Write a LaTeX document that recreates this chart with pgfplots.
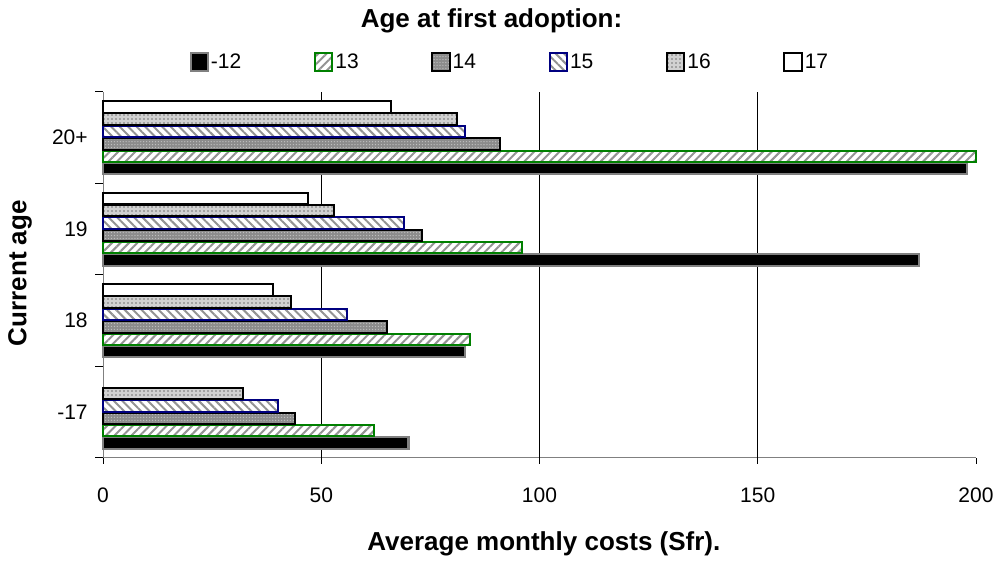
\documentclass[border=0pt]{standalone}
\usepackage{fontspec}
\setmainfont{Liberation Sans}
\usepackage{pgfplots}
\pgfplotsset{compat=1.18}
\usetikzlibrary{patterns.meta}

\definecolor{exgreen}{RGB}{0,128,0}
\definecolor{exnavy}{RGB}{0,0,128}
\definecolor{exgray}{RGB}{128,128,128}

\newcommand{\ticksize}{\fontsize{15.75}{18}\selectfont}
\newcommand{\titlesize}{\fontsize{19.5}{22}\selectfont\bfseries}

\begin{document}
\begin{tikzpicture}
\useasboundingbox (0pt,0pt) rectangle (749.25pt,425.25pt);

\begin{axis}[
  at = {(77.25pt,81.75pt)}, anchor = south west,
  scale only axis,
  width = 654.75pt, height = 274.5pt,
  xbar,
  bar width = 0.125,
  clip = false,
  xmin = 0, xmax = 200,
  ymin = -0.5, ymax = 3.5,
  xtick = {0,50,...,200},
  extra x ticks = {50,100,150},
  extra x tick labels = {},
  extra x tick style = {grid = major},
  major grid style = {black, line width = 0.75pt},
  ytick = {0,1,2,3},
  yticklabels = {-17,18,19,20+},
  minor ytick = {-0.5,0.5,1.5,2.5,3.5},
  major y tick style = {draw = none},
  minor y tick style = {draw = black, line width = 0.75pt},
  major x tick style = {black, line width = 0.75pt},
  tick align = outside,
  major tick length = 4.5pt,
  minor tick length = 6pt,
  axis x line* = bottom,
  axis y line* = left,
  axis line style = {-, exgray, line width = 0.75pt},
  /pgf/number format/assume math mode = true,
  tick label style = {font = \ticksize},
  xticklabel style = {yshift = -14pt},
  yticklabel style = {xshift = -3.5pt},
  title = {Age at first adoption:},
  title style = {font = \titlesize, at = {(axis description cs:0.445,1.191)}, anchor = center, yshift = -5pt},
  xlabel = {Average monthly costs (Sfr).},
  xlabel style = {font = \titlesize, at = {(axis description cs:0.505,-0.235)}, anchor = center},
  ylabel = {Current age},
  ylabel style = {font = \titlesize, at = {(axis description cs:-0.095,0.505)}, anchor = center},
  legend columns = 6,
  legend style = {
    draw = none, fill = none,
    at = {(axis description cs:0.466,1.082)}, anchor = center,
    font = \ticksize,
    nodes = {inner sep = 1.5pt},
    /tikz/every even column/.append style = {column sep = 53pt},
  },
  legend image code/.code = {
    \draw[#1] (0pt,-6.5pt) rectangle (13pt,6.5pt);
  },
]

% -12
\addplot+[draw = exgray, fill = black, line width = 1.6pt, bar shift = -0.3375]
  coordinates {(70,0) (83,1) (187,2) (198,3)};
% 13
\addplot+[draw = exgreen, fill = white, line width = 1.5pt, bar shift = -0.2025,
  postaction = {pattern = {Lines[angle=45, distance=4.5pt, line width=1.5pt]}, pattern color = gray!85}]
  coordinates {(62,0) (84,1) (96,2) (200,3)};
% 14
\addplot+[draw = black, fill = black!45, line width = 1.5pt, bar shift = -0.0675,
  postaction = {pattern = {Dots[distance=2.2pt, radius=0.5pt]}, pattern color = white!75!black}]
  coordinates {(44,0) (65,1) (73,2) (91,3)};
% 15
\addplot+[draw = exnavy, fill = white, line width = 1.5pt, bar shift = 0.0675,
  postaction = {pattern = {Lines[angle=-45, distance=4.5pt, line width=1.5pt]}, pattern color = gray!85}]
  coordinates {(40,0) (56,1) (69,2) (83,3)};
% 16
\addplot+[draw = black, fill = black!18, line width = 1.5pt, bar shift = 0.2025,
  postaction = {pattern = {Dots[distance=3pt, radius=0.7pt]}, pattern color = black!55}]
  coordinates {(32,0) (43,1) (53,2) (81,3)};
% 17
\addplot+[draw = black, fill = white, line width = 1.5pt, bar shift = 0.3375]
  coordinates {(39,1) (47,2) (66,3)};

\legend{-12,13,14,15,16,17}
\end{axis}
\end{tikzpicture}
\end{document}
